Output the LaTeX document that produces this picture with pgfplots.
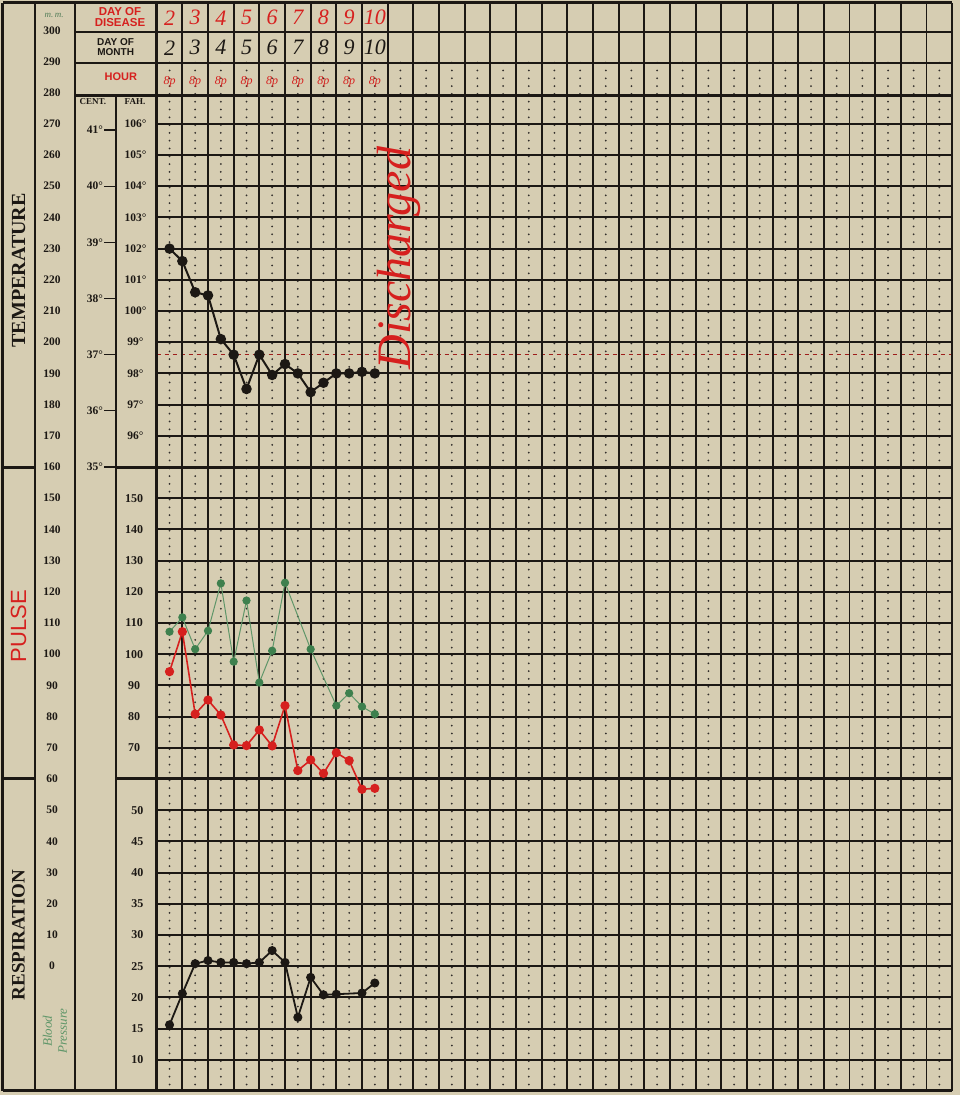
\documentclass[border=0pt]{standalone}
\usepackage{fontspec}
\setmainfont{Liberation Serif}
\setsansfont{Liberation Sans}
\usepackage{pgfplots}
\pgfplotsset{compat=1.18}
\usepackage{pgfplotstable}

\definecolor{paper}{RGB}{214,205,178}
\definecolor{ink}{RGB}{28,24,20}
\definecolor{cred}{RGB}{214,32,30}
\definecolor{cgreen}{RGB}{62,128,78}
\definecolor{bpgreen}{RGB}{95,150,105}

% temperature, deg F
\pgfplotstableread{
x F
1 102.0
2 101.6
3 100.6
4 100.5
5 99.1
6 98.6
7 97.5
8 98.6
9 97.95
10 98.3
11 98.0
12 97.4
13 97.7
14 98.0
15 98.0
16 98.05
17 98.0
}\temptable

% pulse
\pgfplotstableread{
x P
1 94.4
2 107.2
3 80.8
4 85.3
5 80.5
6 70.9
7 70.7
8 75.7
9 70.6
10 83.5
11 62.7
12 66.1
13 61.8
14 68.4
15 65.9
16 56.7
17 57.0
}\pulsetable

% blood pressure, mm
\pgfplotstableread{
x BP
1 107.2
2 111.8
3 101.6
4 107.5
5 122.7
6 97.6
7 117.2
8 90.9
9 101.1
10 122.9
12 101.6
14 83.5
15 87.5
16 83.2
17 80.8
}\bptable

% respiration
\pgfplotstableread{
x R
1 15.6
2 20.6
3 25.4
4 25.9
5 25.6
6 25.6
7 25.4
8 25.6
9 27.5
10 25.6
11 16.8
12 23.2
13 20.4
14 20.5
16 20.7
17 22.3
}\resptable

\begin{document}
\begin{tikzpicture}
\begin{axis}[
  width=960pt, height=1095pt, scale only axis,
  xmin=-12.213, xmax=62.61, ymin=-41.3, ymax=309.7,
  hide axis, clip=false,
]
\fill[paper] (rel axis cs:0,0) rectangle (rel axis cs:1,1);

% ---------- grid: dotted half-day lines
\pgfplotsinvokeforeach{1,3,...,61}{
  \draw[ink!90, line width=2pt, line cap=round, dash pattern=on 0pt off 7.8pt]
    (axis cs:#1,289.6) -- (axis cs:#1,-40);
}
% normal temperature 98.6
\draw[cred!70!ink, line width=1pt, dash pattern=on 4pt off 4pt] (axis cs:0,196) -- (axis cs:62,196);

% ---------- grid: solid day lines
\pgfplotsinvokeforeach{2,4,...,60}{
  \draw[ink, line width=1.9pt] (axis cs:#1,308.8) -- (axis cs:#1,-40);
}
% horizontal thin lines
\pgfplotsinvokeforeach{170,180,...,270}{
  \draw[ink, line width=1.9pt] (axis cs:0,#1) -- (axis cs:62,#1);
}
\pgfplotsinvokeforeach{70,80,...,150}{
  \draw[ink, line width=1.9pt] (axis cs:0,#1) -- (axis cs:62,#1);
}
\pgfplotsinvokeforeach{-30,-20,...,50}{
  \draw[ink, line width=1.9pt] (axis cs:0,#1) -- (axis cs:62,#1);
}
\draw[ink, line width=1.9pt] (axis cs:-6.37,299.5) -- (axis cs:62,299.5);
\draw[ink, line width=1.9pt] (axis cs:-6.37,289.6) -- (axis cs:62,289.6);

% thick frame lines
\draw[ink, line width=3pt] (axis cs:-11.98,308.8) -- (axis cs:62,308.8);
\draw[ink, line width=3pt] (axis cs:-11.98,-40) -- (axis cs:62,-40);
\draw[ink, line width=3pt] (axis cs:-6.37,279) -- (axis cs:62,279);
\draw[ink, line width=3pt] (axis cs:-11.98,160) -- (axis cs:-9.49,160);
\draw[ink, line width=3pt] (axis cs:-3.17,160) -- (axis cs:62,160);
\draw[ink, line width=3pt] (axis cs:-11.98,60) -- (axis cs:-9.49,60);
\draw[ink, line width=3pt] (axis cs:-3.17,60) -- (axis cs:62,60);
\draw[ink, line width=3pt] (axis cs:-11.98,308.8) -- (axis cs:-11.98,-40);
\draw[ink, line width=1.6pt] (axis cs:-9.49,308.8) -- (axis cs:-9.49,-40);
\draw[ink, line width=1.6pt] (axis cs:-6.37,308.8) -- (axis cs:-6.37,-40);
\draw[ink, line width=1.6pt] (axis cs:-3.17,279) -- (axis cs:-3.17,-40);
\draw[ink, line width=3.2pt] (axis cs:0,308.8) -- (axis cs:0,-40);
\draw[ink, line width=2.4pt] (axis cs:62,308.8) -- (axis cs:62,-40);

% ---------- left labels
\pgfplotsinvokeforeach{0,10,...,300}{
  \node[ink, font=\bfseries\fontsize{11.5}{12}\selectfont] at (axis cs:-8.16,#1) {#1};
}
\pgfplotsinvokeforeach{96,...,106}{
  \node[ink, font=\bfseries\fontsize{11.5}{12}\selectfont] at (axis cs:-1.65,{190+(#1-98)*10}) {#1°};
}
\pgfplotsinvokeforeach{35,...,41}{
  \node[ink, anchor=east, inner sep=1pt, font=\bfseries\fontsize{11.5}{12}\selectfont] at (axis cs:-4.1,{190+(#1*1.8-66)*10}) {#1°};
  \draw[ink, line width=1.2pt] (axis cs:-4.1,{190+(#1*1.8-66)*10}) -- (axis cs:-3.25,{190+(#1*1.8-66)*10});
}
\pgfplotsinvokeforeach{70,80,...,150}{
  \node[ink, font=\bfseries\fontsize{12}{12}\selectfont] at (axis cs:-1.76,#1) {#1};
}
\pgfplotsinvokeforeach{10,15,...,50}{
  \node[ink, font=\bfseries\fontsize{12}{12}\selectfont] at (axis cs:-1.5,{2*#1-50}) {#1};
}
\node[ink, font=\bfseries\fontsize{9}{9}\selectfont] at (axis cs:-4.97,277.2) {CENT.};
\node[ink, font=\bfseries\fontsize{9}{9}\selectfont] at (axis cs:-1.69,277.2) {FAH.};
\node[bpgreen!80!ink, font=\itshape\fontsize{9}{9}\selectfont] at (axis cs:-8.0,304.7) {m.\,m.};

\node[cred, align=center, font=\sffamily\bfseries\fontsize{11.5}{11.7}\selectfont] at (axis cs:-2.86,304.2) {DAY OF\\DISEASE};
\node[ink, align=center, font=\sffamily\bfseries\fontsize{10}{10.3}\selectfont] at (axis cs:-3.2,294.6) {DAY OF\\MONTH};
\node[cred, font=\sffamily\bfseries\fontsize{11}{11}\selectfont] at (axis cs:-2.8,285) {HOUR};

\node[ink, rotate=90, font=\bfseries\fontsize{20}{20}\selectfont] at (axis cs:-10.77,223) {TEMPERATURE};
\node[cred, rotate=90, font=\sffamily\fontsize{22}{22}\selectfont] at (axis cs:-10.77,109) {PULSE};
\node[ink, rotate=90, font=\bfseries\fontsize{19}{19}\selectfont] at (axis cs:-10.77,10) {RESPIRATION};
\node[bpgreen, rotate=90, align=center, font=\itshape\fontsize{13}{15}\selectfont] at (axis cs:-7.93,-20.8) {Blood\\Pressure};

% ---------- header day numbers
\pgfplotsinvokeforeach{2,...,10}{
  \node[cred, font=\itshape\fontsize{22}{22}\selectfont] at (axis cs:{2*#1-3},304.0) {#1};
  \node[ink, font=\itshape\fontsize{22}{22}\selectfont] at (axis cs:{2*#1-3},294.4) {#1};
  \node[cred, inner sep=0pt, font=\itshape\fontsize{12}{12}\selectfont] at (axis cs:{2*#1-3},283.4) {8p};
}

% discharged
\node[cred, rotate=90, font=\itshape\fontsize{48}{48}\selectfont] at (axis cs:18.9,227) {Discharged};

% ---------- data
\addplot[bpgreen, line width=1pt, mark=*, mark size=3.6pt, mark options={fill=cgreen, draw=cgreen}] table[x=x, y=BP] {\bptable};
\addplot[cred, line width=1.6pt, mark=*, mark size=3.8pt, mark options={fill=cred, draw=cred}] table[x=x, y=P] {\pulsetable};
\addplot[ink, line width=2pt, mark=*, mark size=4.2pt, mark options={fill=ink, draw=ink}] table[x=x, y expr={190+(\thisrow{F}-98)*10}] {\temptable};
\addplot[ink, line width=1.8pt, mark=*, mark size=3.6pt, mark options={fill=ink, draw=ink}] table[x=x, y expr={2*\thisrow{R}-50}] {\resptable};
\end{axis}
\end{tikzpicture}
\end{document}
